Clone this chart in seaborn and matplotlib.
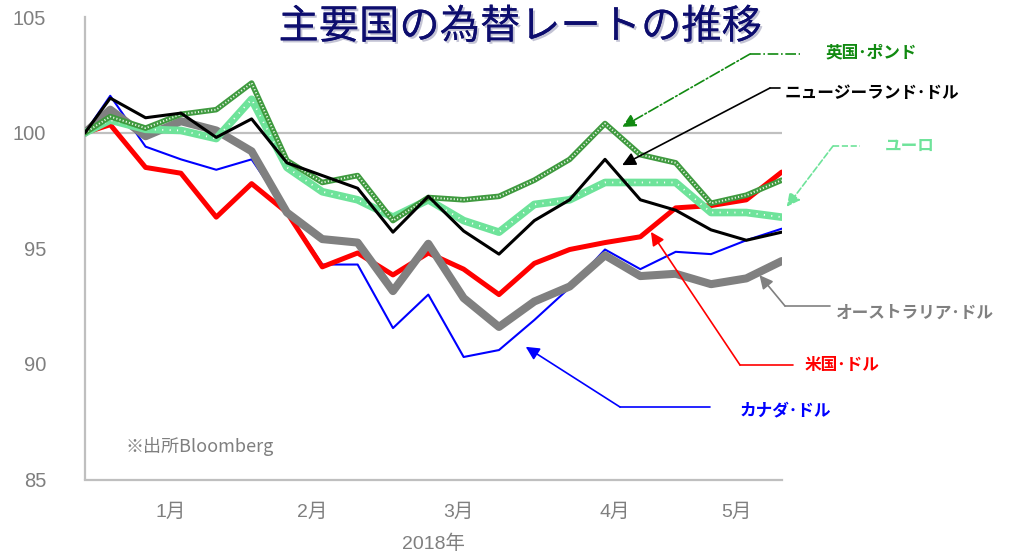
import pandas as pd
import matplotlib.pyplot as plt
import matplotlib.dates as mdates
import matplotlib.patheffects as pe
import seaborn as sns

# weekly index values (start of 2018 = 100)
dates = ['2018-01-01', '2018-01-06', '2018-01-13', '2018-01-20', '2018-01-27',
         '2018-02-03', '2018-02-10', '2018-02-17', '2018-02-24', '2018-03-03',
         '2018-03-10', '2018-03-17', '2018-03-24', '2018-03-31', '2018-04-07',
         '2018-04-14', '2018-04-21', '2018-04-28', '2018-05-05', '2018-05-12',
         '2018-05-19']
cad = [100, 101.6, 99.4, 98.85, 98.4, 98.85, 96.6, 94.3, 94.3, 91.55, 93.0,
       90.3, 90.6, 91.9, 93.3, 94.95, 94.1, 94.85, 94.75, 95.35, 95.85]
usd = [100, 100.35, 98.5, 98.25, 96.35, 97.8, 96.55, 94.2, 94.8, 93.85, 94.8,
       94.1, 93.0, 94.35, 94.95, 95.25, 95.5, 96.75, 96.85, 97.1, 98.3]
aud = [100, 101.0, 99.85, 100.5, 100.1, 99.2, 96.55, 95.4, 95.25, 93.15, 95.2,
       92.85, 91.6, 92.7, 93.35, 94.7, 93.8, 93.9, 93.45, 93.7, 94.45]
eur = [100, 100.55, 100.15, 100.1, 99.75, 101.45, 98.5, 97.45, 97.1, 96.35, 97.1,
       96.2, 95.7, 96.9, 97.1, 97.85, 97.85, 97.85, 96.55, 96.55, 96.35]
gbp = [100, 100.7, 100.2, 100.8, 101.0, 102.15, 98.8, 97.85, 98.15, 96.2, 97.2,
       97.1, 97.25, 97.95, 98.85, 100.4, 99.05, 98.7, 96.95, 97.3, 97.95]
nzd = [100, 101.5, 100.65, 100.85, 99.8, 100.6, 98.7, 98.15, 97.6, 95.7, 97.25,
       95.75, 94.75, 96.2, 97.1, 98.85, 97.1, 96.65, 95.8, 95.35, 95.7]

month_labels = ['1月', '2月', '3月', '4月', '5月']
y_ticks = [85, 90, 95, 100, 105]

df = pd.DataFrame({'date': pd.to_datetime(dates), 'cad': cad, 'usd': usd,
                   'aud': aud, 'eur': eur, 'gbp': gbp, 'nzd': nzd})

sns.set_style('white')
plt.rcParams['font.family'] = ['Liberation Sans', 'Noto Sans CJK JP', 'DejaVu Sans']

W, H = 1013, 558
fig = plt.figure(figsize=(W / 100, H / 100), dpi=100)
ax = fig.add_axes([85 / W, (H - 479.5) / H, (781.7 - 85) / W, (479.5 - 17.2) / H])

# reference line at 100
ax.axhline(100, color='#c0c0c0', lw=1.6, zorder=1)

sns.lineplot(data=df, x='date', y='cad', ax=ax, color='#0000ff', lw=1.5, zorder=3)
sns.lineplot(data=df, x='date', y='usd', ax=ax, color='#ff0000', lw=3.6, zorder=4)
sns.lineplot(data=df, x='date', y='aud', ax=ax, color='#808080', lw=5.8, zorder=5)
sns.lineplot(data=df, x='date', y='eur', ax=ax, color='#6ee39a', lw=5.5, zorder=6)
sns.lineplot(data=df, x='date', y='eur', ax=ax, color='white', lw=1.3, zorder=6.1,
             linestyle=(0, (0.6, 3.5)))
sns.lineplot(data=df, x='date', y='gbp', ax=ax, color='#3f9a3f', lw=4.0, zorder=7)
sns.lineplot(data=df, x='date', y='gbp', ax=ax, color='#e8f5e8', lw=1.4, zorder=7.1,
             linestyle=(0, (0.6, 1.1)))
sns.lineplot(data=df, x='date', y='nzd', ax=ax, color='black', lw=2.2, zorder=8)

ax.set_ylim(85, 105)
ax.set_yticks(y_ticks)
ax.set_xlim(pd.Timestamp('2018-01-01'), pd.Timestamp('2018-05-19'))

month_starts = pd.to_datetime(['2018-01-01', '2018-02-01', '2018-03-01', '2018-04-01', '2018-05-01'])
month_mids = pd.to_datetime(['2018-01-18', '2018-02-15', '2018-03-16', '2018-04-16', '2018-05-10'])
ax.set_xticks(month_starts)
ax.set_xticklabels([])
ax.set_xticks(month_mids, minor=True)
ax.set_xticklabels(month_labels, minor=True)
ax.tick_params(axis='x', which='major', length=6, width=1.2, color='#bfbfbf', direction='out')
ax.tick_params(axis='x', which='minor', length=0, pad=17, labelsize=14, labelcolor='#7f7f7f')
ax.tick_params(axis='y', length=0, pad=28, labelsize=14.5, labelcolor='#7f7f7f')

ax.set_xlabel('2018年', fontsize=14, color='#7f7f7f', labelpad=10)
ax.set_ylabel('')
sns.despine(ax=ax)
for s in ['left', 'bottom']:
    ax.spines[s].set_color('#bfbfbf')
    ax.spines[s].set_linewidth(1.6)

# title
fig.text(520 / W, 1 - 27 / H, '主要国の為替レートの推移', ha='center', va='center',
         fontsize=29, color='#0d0d6e', fontweight='normal', family=['Noto Sans CJK JP'],
         path_effects=[pe.withSimplePatchShadow(offset=(1.5, -1.5), shadow_rgbFace='#8888aa', alpha=0.5),
                       pe.Normal()])

fig.text(125 / W, 1 - 447 / H, '※出所Bloomberg', ha='left', va='center', fontsize=13,
         color='#7f7f7f', family=['Noto Sans CJK JP'])


def label(text, color, tx, ty, hx1, hx2, hy, tip_day, tip_val, ls='-'):
    # horizontal leader, diagonal arrow to the line, then text
    fig.add_artist(plt.Line2D([hx1 / W, hx2 / W], [1 - hy / H, 1 - hy / H],
                              transform=fig.transFigure, color=color, lw=1.2, linestyle=ls))
    tip = pd.Timestamp('2018-01-01') + pd.Timedelta(days=tip_day)
    ax.annotate('', xy=(mdates.date2num(tip), tip_val), xycoords='data',
                xytext=(hx1, H - hy), textcoords='figure pixels',
                arrowprops=dict(arrowstyle='-|>,head_length=0.8,head_width=0.4',
                                color=color, lw=1.2, linestyle=ls, shrinkA=0, shrinkB=0),
                annotation_clip=False, zorder=10)
    fig.text(tx / W, 1 - ty / H, text, ha='left', va='center', fontsize=12,
             color=color, fontweight='bold', family=['Noto Sans CJK JP'])


label('英国･ポンド', '#118a11', 826, 52, 750, 800, 54, 106.4, 100.25, ls='-.')
label('ニュージーランド･ドル', 'black', 785, 93, 770, 780, 88, 106.4, 98.6)
label('ユーロ', '#6ee39a', 885, 146, 833, 860, 146, 139, 96.8, ls='--')
label('オーストラリア･ドル', '#808080', 836, 313, 785, 830, 306, 133.6, 93.84)
label('米国･ドル', '#ff0000', 805, 365, 740, 793, 365, 112.1, 95.71)
label('カナダ･ドル', '#0000ff', 740, 410, 620, 710, 407, 87.3, 90.74)

fig.savefig('out.png', dpi=100)
